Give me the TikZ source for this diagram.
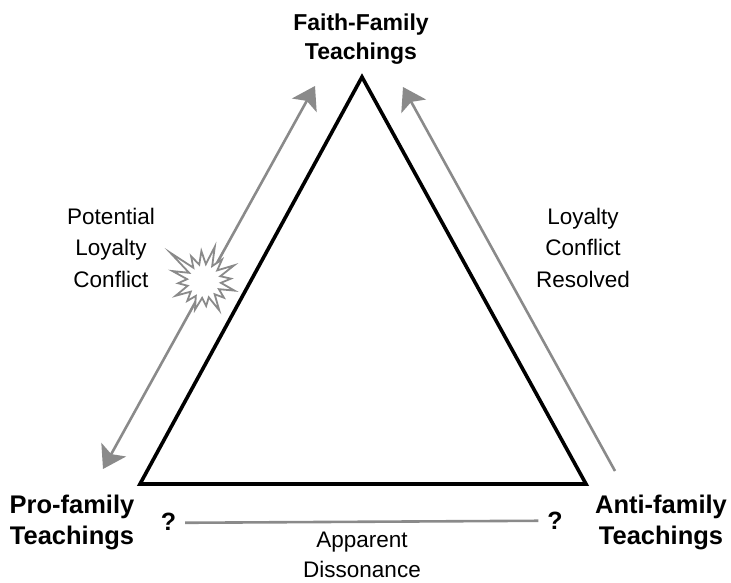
\documentclass[tikz,border=0pt]{standalone}
\usepackage{fontspec}
\setmainfont{Liberation Sans}
\usetikzlibrary{arrows.meta,calc}
\definecolor{arrowgray}{HTML}{8A8A8A}
\begin{document}
\begin{tikzpicture}[x=1pt,y=-1pt,
  toplabel/.style={font=\fontsize{23}{29.5}\selectfont\bfseries, align=center, inner sep=0pt, anchor=base},
  cornerlabel/.style={font=\fontsize{25.5}{31}\selectfont\bfseries, align=center, inner sep=0pt, anchor=base},
  sidelabel/.style={font=\fontsize{22.5}{31.5}\selectfont, align=center, inner sep=0pt, anchor=base},
  qmark/.style={font=\fontsize{25}{30}\selectfont\bfseries, inner sep=0pt, outer sep=9pt, anchor=base},
  relation/.style={draw=arrowgray, line width=2.6pt},
  bigtip/.tip={Stealth[length=22pt, width=28pt, inset=5pt, fill=arrowgray, color=arrowgray]},
  burst/.style={draw=arrowgray, fill=white, line width=1.8pt, line join=miter}
]
\useasboundingbox (0,0) rectangle (731,583);

% triangle corners
\coordinate (apex) at (362,77);
\coordinate (bl) at (140,484);
\coordinate (br) at (586,484);
\draw[line width=3.6pt, line join=miter] (apex) -- (bl) -- (br) -- cycle;

% corner labels (positions are last-line baselines)
\node[toplabel] (faith) at (361,60) {Faith-Family\\Teachings};
\node[cornerlabel] (pro) at (72,544) {Pro-family\\Teachings};
\node[cornerlabel] (anti) at (661,544) {Anti-family\\Teachings};

% side labels
\node[sidelabel] (potential) at (111,287) {Potential\\Loyalty\\Conflict};
\node[sidelabel] (resolved) at (583,287) {Loyalty\\Conflict\\Resolved};
\node[sidelabel, font=\fontsize{22.5}{30}\selectfont] (dissonance) at (362,577) {Apparent\\Dissonance};

% question marks joined by the dissonance line
\node[qmark] (q1) at (168.5,530) {?};
\node[qmark] (q2) at (555,529) {?};
\draw[relation] ([yshift=-1.5pt]q1.east) -- ([yshift=-0.5pt]q2.west);

% arrow ends
\coordinate (la1) at (103,469);
\coordinate (la2) at (315,86);
\coordinate (ra1) at (615,471);
\coordinate (ra2) at (403,87);

\draw[relation, {bigtip}-{bigtip}] (la1) -- (la2);
\draw[relation, -{bigtip}] (ra1) -- (ra2);

% conflict burst on the left arrow
\coordinate (bc) at (204,281);
\begin{scope}[shift={(bc)}]
\draw[burst] (220:44) -- (231.25:17) -- (242.5:28) -- (253.75:17)
  -- (265:30) -- (276.25:17) -- (287.5:36) -- (298.75:17)
  -- (310:28) -- (321.25:17) -- (332.5:34) -- (343.75:17)
  -- (355:27) -- (6.25:17) -- (17.5:32) -- (28.75:17)
  -- (40:26) -- (51.25:17) -- (62.5:33) -- (73.75:17)
  -- (85:25) -- (96.25:17) -- (107.5:30) -- (118.75:17)
  -- (130:26) -- (141.25:17) -- (152.5:32) -- (163.75:17)
  -- (175:26) -- (186.25:17) -- (197.5:33) -- (208.75:17) -- cycle;
\end{scope}
\end{tikzpicture}
\end{document}
